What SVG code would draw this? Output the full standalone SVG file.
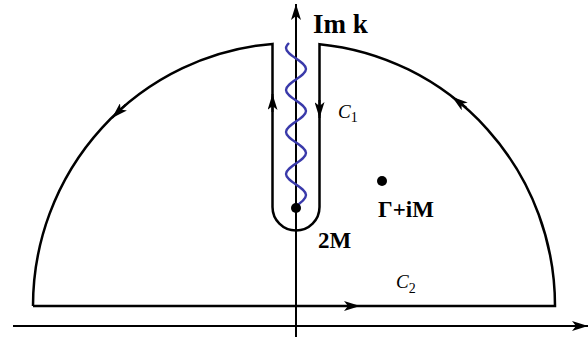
<svg xmlns="http://www.w3.org/2000/svg" width="588" height="337" viewBox="0 0 588 337">
  <style>
    .ln { fill: none; stroke: #000; stroke-width: 2.5; }
    .ax { fill: none; stroke: #000; stroke-width: 2; }
    .ar { fill: none; stroke: #000; stroke-width: 2; marker-end: url(#ah); }
    .wave { fill: none; stroke: #3a3aaa; stroke-width: 2.4; }
    .lbl { font-family: "Liberation Serif", "Times New Roman", serif; fill: #000; }
    .b { font-weight: bold; }
    .it { font-style: italic; }
  </style>
  <defs>
    <marker id="ah" markerUnits="userSpaceOnUse" viewBox="0 0 16 10" refX="16" refY="5" markerWidth="16" markerHeight="10" orient="auto">
      <path d="M0,0 L16,5 L0,10 L4,5 Z" fill="#000"/>
    </marker>
  </defs>
  <rect width="588" height="337" fill="#fff"/>

  <g id="axes">
    <line class="ax" x1="13" y1="326" x2="574" y2="326"/>
    <path class="ar" d="M 570 326 L 588 326"/>
    <line class="ax" x1="296" y1="337" x2="296" y2="20"/>
    <path class="ar" d="M 296 24 L 296 4"/>
  </g>

  <g id="contour">
    <path class="ln" d="M 33 306 L 555 306 A 261 263 0 0 0 319.5 44.2 L 319.5 207 A 23.5 23.5 0 0 1 272.5 207 L 272.5 43.9 A 261 263 0 0 0 33 306"/>
  </g>

  <g id="connectors">
    <path class="ar" d="M 272.5 112 L 272.5 94"/>
    <path class="ar" d="M 319.5 100 L 319.5 118"/>
    <path class="ar" d="M 336 306 L 360 306"/>
    <path class="ar" d="M 125.6 104.7 L 112 118"/>
    <path class="ar" d="M 466.3 107.6 L 452 96.7"/>
  </g>

  <g id="cut">
    <path class="wave" d="M 289 43 C 287.5 44.5 286 46 286 48 C 286 55.5 306 61.5 306 69 C 306 76.5 286 82.5 286 90 C 286 97.5 306 103.5 306 111 C 306 118.5 286 124.5 286 132 C 286 139.5 306 145.5 306 153 C 306 160.5 286 166.5 286 174 C 286 181.5 306 187.5 306 195 C 306 200 298 205 293 208"/>
  </g>

  <g id="branch-point">
    <circle cx="296" cy="208" r="5" fill="#000"/>
    <text class="lbl b" x="318" y="248" font-size="23">2M</text>
  </g>

  <g id="pole">
    <circle cx="382" cy="181" r="5" fill="#000"/>
    <text class="lbl b" x="378" y="217" font-size="23">Γ+iM</text>
  </g>

  <g id="labels">
    <text class="lbl b" x="313" y="33" font-size="27">Im k</text>
    <text class="lbl" x="338" y="118" font-size="19"><tspan class="it">C</tspan><tspan font-size="14" dy="4">1</tspan></text>
    <text class="lbl" x="396" y="288" font-size="19"><tspan class="it">C</tspan><tspan font-size="14" dy="5">2</tspan></text>
  </g>
</svg>
